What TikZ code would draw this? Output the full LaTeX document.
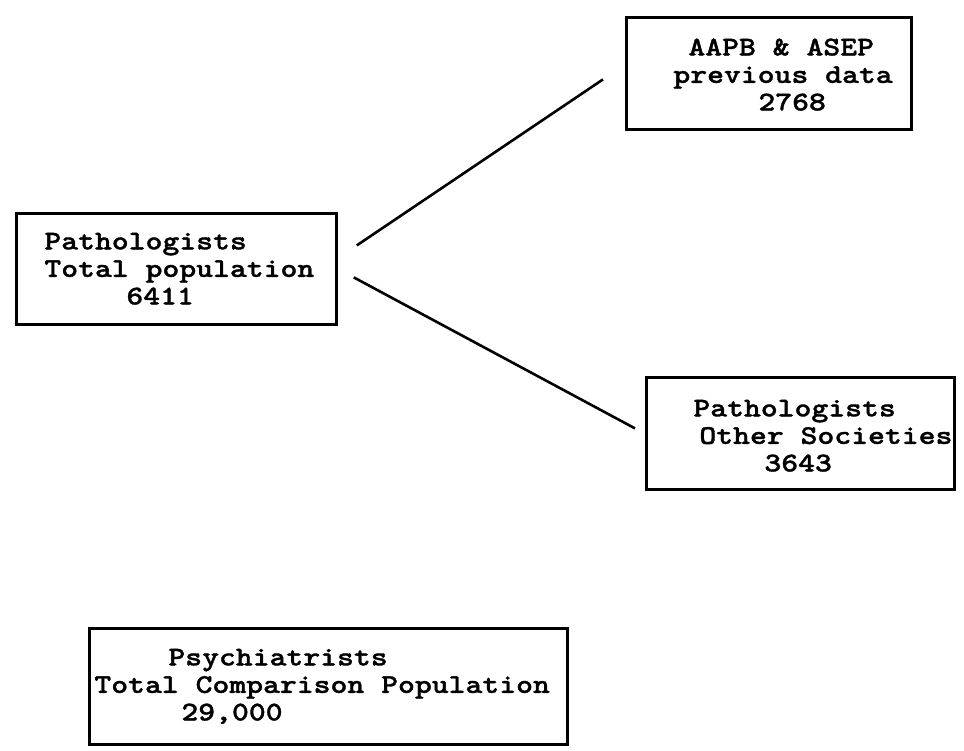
\documentclass[tikz,border=0pt]{standalone}
\usepackage{fontspec}
\newfontfamily\boxfont{lmmonolt10-bold.otf}[FakeStretch=1.19, FakeBold=1.2]
\usetikzlibrary{positioning}
\hyphenpenalty=10000
\exhyphenpenalty=10000
\newcommand\mspc{\hspace*{16.9pt}}

\begin{document}
\begin{tikzpicture}[x=1pt, y=-1pt,
  popbox/.style={rectangle, draw=black, line width=2.8pt, anchor=north west, align=left,
    inner xsep=#1, inner ysep=0pt, font=\boxfont\fontsize{27pt}{27.5pt}\selectfont},
  link/.style={draw=black, line width=2.6pt}
]
\useasboundingbox (0,0) rectangle (964,751);

\node[popbox=47pt, text width=191pt, text height=38pt, text depth=74pt] (aapb) at (625,16)
  {\hspace*{15pt}AAPB\mspc\&\mspc ASEP\\previous\mspc data\\\hspace*{85pt}2768};
\node[popbox=28pt, text width=264pt, text height=36pt, text depth=75pt] (totpath) at (15,212)
  {Pathologists\\Total\mspc population\\\hspace*{82pt}6411};
\node[popbox=47pt, text width=214pt, text height=39pt, text depth=73pt] (othsoc) at (645,376)
  {Pathologists\\\hspace*{6pt}Other\mspc Societies\\\hspace*{71pt}3643};
\node[popbox=5pt, text width=468pt, text height=37pt, text depth=79pt] (psych) at (88,627)
  {\hspace*{74pt}Psychiatrists\\Total\mspc Comparison\mspc Population\\\hspace*{87pt}29,000};

\draw[link] ([xshift=19pt, yshift=23.5pt]totpath.east) -- ([xshift=-22pt, yshift=-6pt]aapb.west);
\draw[link] ([xshift=16pt, yshift=-8.5pt]totpath.east) -- ([xshift=-10pt, yshift=5pt]othsoc.west);

\end{tikzpicture}
\end{document}
